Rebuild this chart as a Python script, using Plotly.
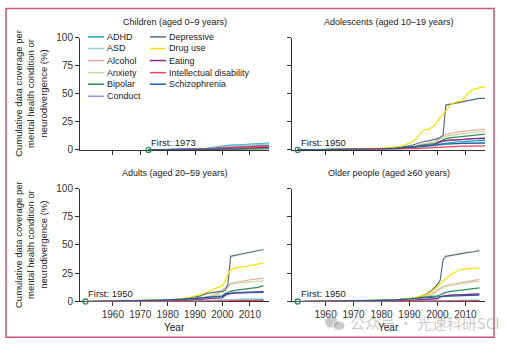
import plotly.graph_objects as go

W, H = 507, 349

CONDITIONS = ["ADHD", "ASD", "Alcohol", "Anxiety", "Bipolar", "Conduct",
              "Depressive", "Drug use", "Eating", "Intellectual disability", "Schizophrenia"]
COLORS = ["#1ba3c6", "#8fd0dc", "#eeaaa0", "#c2dc9e", "#2e8b57", "#a58ad6",
          "#56707a", "#f5e000", "#8c2a7e", "#ee4455", "#1f5fa0"]

PANEL_TITLES = ["Children (aged 0\u20139 years)", "Adolescents (aged 10\u201319 years)",
                "Adults (aged 20\u201359 years)", "Older people (aged \u226560 years)"]

Y_TICKS = [0, 25, 50, 75, 100]
X_TICKS = [1960, 1970, 1980, 1990, 2000, 2010]

# ---------- Children ----------
years_children = [1973, 1980, 1985, 1990, 1993, 1996, 1999, 2001, 2003, 2006, 2009, 2012, 2015, 2017]
children = {
    "ADHD":          [0, 0.2, 0.3, 0.5, 1, 2, 3, 3.8, 4.2, 4.5, 4.8, 5.2, 5.6, 6],
    "ASD":           [0, 0.1, 0.2, 0.4, 0.8, 1.5, 2.5, 3.2, 3.6, 4, 4.3, 4.6, 5, 5.3],
    "Alcohol":       [0, 0.1, 0.2, 0.3, 0.5, 0.8, 1, 1.2, 1.4, 1.6, 1.8, 2, 2.2, 2.3],
    "Anxiety":       [0, 0.1, 0.2, 0.4, 0.6, 1, 1.5, 2, 2.2, 2.5, 2.8, 3, 3.2, 3.4],
    "Bipolar":       [0, 0.1, 0.1, 0.2, 0.3, 0.5, 0.7, 0.9, 1, 1.1, 1.2, 1.3, 1.4, 1.5],
    "Conduct":       [0, 0.2, 0.3, 0.5, 0.8, 1.3, 2, 2.5, 2.8, 3, 3.3, 3.5, 3.8, 4],
    "Depressive":    [0, 0.1, 0.2, 0.4, 0.6, 1, 1.5, 2, 2.3, 2.6, 2.9, 3.2, 3.5, 3.7],
    "Drug use":      [0, 0, 0.1, 0.1, 0.2, 0.3, 0.4, 0.5, 0.6, 0.7, 0.8, 0.9, 1, 1],
    "Eating":        [0, 0.1, 0.1, 0.2, 0.4, 0.7, 1, 1.3, 1.5, 1.7, 1.9, 2.1, 2.3, 2.5],
    "Intellectual disability": [0, 0.2, 0.4, 0.6, 0.8, 1.2, 1.6, 1.9, 2.1, 2.3, 2.5, 2.7, 2.9, 3],
    "Schizophrenia": [0, 0, 0.1, 0.1, 0.2, 0.3, 0.4, 0.5, 0.6, 0.7, 0.8, 0.9, 1, 1],
}

# ---------- Adolescents ----------
years_adolescents = [1950, 1960, 1970, 1980, 1985, 1988, 1990, 1992, 1994, 1995, 1997, 1999,
                     2000, 2001, 2002, 2003, 2005, 2007, 2009, 2011, 2013, 2015, 2017]
adolescents = {
    "ADHD":          [0, 0.1, 0.3, 0.6, 1, 1.3, 1.8, 2.2, 2.8, 3, 3.5, 4, 4.5, 5, 5.5, 6, 6.5, 7, 7.5, 8, 8, 8.5, 8.5],
    "ASD":           [0, 0.1, 0.2, 0.4, 0.7, 1, 1.3, 1.7, 2, 2.3, 2.7, 3, 3.5, 4, 4.5, 5, 5.5, 6, 6, 6.5, 6.5, 7, 7],
    "Alcohol":       [0, 0.2, 0.5, 1, 1.5, 2, 2.5, 3.5, 5, 5.5, 6, 7, 9, 11, 12, 13.5, 15, 16, 16.5, 17, 17.5, 18, 18.5],
    "Anxiety":       [0, 0.2, 0.5, 1, 1.5, 2, 2.5, 3.5, 4.5, 5, 5.5, 6.5, 8, 10, 11, 12, 13, 14, 14.5, 15, 15.5, 16, 16.5],
    "Bipolar":       [0, 0.2, 0.5, 1, 1.5, 2, 2.5, 3, 4, 4.5, 5, 5.5, 6.5, 8, 9, 10, 11, 11.5, 12, 12.5, 13, 13.5, 14],
    "Conduct":       [0, 0.1, 0.4, 0.8, 1.2, 1.5, 2, 2.5, 3, 3.5, 4, 4.5, 5.5, 7, 7.5, 8, 8.5, 9, 9.5, 10, 10.5, 11, 11],
    "Depressive":    [0, 0.2, 0.5, 1, 1.5, 2.5, 3.5, 5, 7, 7.5, 8, 9, 10, 11, 13, 40, 41, 42, 43, 44, 45, 46, 46],
    "Drug use":      [0, 0.3, 0.8, 1.5, 2.5, 4, 6, 9, 15, 18, 18.5, 22, 26, 29, 32, 35, 41, 43, 44, 51, 54, 55.5, 56],
    "Eating":        [0, 0.1, 0.3, 0.6, 1, 1.5, 2, 2.5, 3, 3.5, 4, 4.5, 6, 7.5, 8, 8.5, 9, 9, 9.5, 9.5, 10, 10, 10],
    "Intellectual disability": [0, 0.1, 0.2, 0.4, 0.6, 0.8, 1, 1.2, 1.5, 1.7, 2, 2.2, 2.4, 2.6, 2.8, 3, 3, 3.2, 3.3, 3.4, 3.5, 3.5, 3.5],
    "Schizophrenia": [0, 0.2, 0.5, 1, 1.5, 2, 2.5, 3, 3.5, 3.8, 4, 4.2, 4.5, 5, 5, 5.2, 5.4, 5.6, 5.8, 6, 6, 6, 6],
}

# ---------- Adults ----------
years_adults = [1950, 1960, 1970, 1980, 1985, 1988, 1990, 1992, 1994, 1996, 1998, 2000,
                2001, 2002, 2003, 2005, 2007, 2009, 2011, 2013, 2015]
adults = {
    "ADHD":          [0, 0, 0.1, 0.2, 0.3, 0.4, 0.5, 0.6, 0.7, 0.8, 0.9, 1, 1.1, 1.2, 1.3, 1.4, 1.5, 1.6, 1.7, 1.8, 1.9],
    "ASD":           [0, 0, 0.1, 0.1, 0.2, 0.3, 0.4, 0.5, 0.6, 0.7, 0.8, 0.9, 1, 1.2, 1.5, 1.8, 2, 2, 2, 2, 2],
    "Alcohol":       [0, 0.2, 0.5, 1, 1.5, 2, 2.5, 3, 4, 5, 7, 10, 12, 14, 16, 17, 18, 19, 19.5, 20, 20.5],
    "Anxiety":       [0, 0.2, 0.5, 1, 1.5, 2, 2.5, 3, 3.5, 4.5, 6, 8, 11, 13, 15, 16, 16.5, 17, 17.5, 18, 18.5],
    "Bipolar":       [0, 0.2, 0.5, 1, 1.5, 2, 2.5, 3, 3.5, 4, 4.5, 5, 7, 8, 9, 10, 10.5, 11, 11.5, 12.5, 14],
    "Conduct":       [0, 0.1, 0.3, 0.6, 1, 1.3, 1.6, 2, 2.3, 2.6, 3, 3.3, 6, 7, 7.5, 8, 8, 8.3, 8.5, 8.7, 9],
    "Depressive":    [0, 0.3, 0.7, 1.3, 2, 3, 4, 5, 7, 8, 8.5, 9, 10, 15, 40, 41, 42, 43, 44, 45, 46],
    "Drug use":      [0, 0.3, 0.7, 1.5, 2.5, 3.5, 5, 6, 8, 10, 12, 14, 18, 24, 28, 30, 30.5, 31, 32, 33, 34],
    "Eating":        [0, 0.1, 0.3, 0.6, 1, 1.3, 1.6, 2, 2.3, 2.6, 3, 3.3, 5.5, 6.5, 7, 7.5, 7.8, 8, 8.3, 8.5, 8.8],
    "Intellectual disability": [0, 0, 0.1, 0.1, 0.2, 0.2, 0.3, 0.3, 0.4, 0.4, 0.5, 0.5, 0.6, 0.6, 0.7, 0.7, 0.8, 0.8, 0.9, 0.9, 1],
    "Schizophrenia": [0, 0.3, 0.8, 1.5, 2, 2.5, 3, 3.3, 3.6, 4, 4.3, 4.6, 6.5, 7, 7.3, 7.5, 7.7, 7.8, 7.9, 8, 8],
}

# ---------- Older people ----------
years_older = [1950, 1960, 1970, 1980, 1985, 1988, 1990, 1992, 1994, 1996, 1998, 2000,
               2001, 2002, 2003, 2005, 2007, 2009, 2011, 2013, 2015]
older = {
    "ADHD":          [0, 0, 0, 0.1, 0.1, 0.1, 0.2, 0.2, 0.3, 0.3, 0.4, 0.5, 0.5, 0.6, 0.6, 0.7, 0.7, 0.8, 0.8, 0.9, 1],
    "ASD":           [0, 0, 0, 0.1, 0.1, 0.2, 0.2, 0.3, 0.3, 0.4, 0.5, 0.6, 0.7, 0.8, 0.9, 1, 1, 1.1, 1.1, 1.2, 1.2],
    "Alcohol":       [0, 0.2, 0.5, 1, 1.5, 2, 2.5, 3, 4, 5, 7, 10, 12, 13, 14, 15, 16, 17, 18, 18.5, 19.5],
    "Anxiety":       [0, 0.2, 0.4, 0.8, 1.2, 1.6, 2, 2.5, 3, 4, 6, 9, 11, 12.5, 13.5, 14.5, 15.5, 16, 16.5, 17, 18],
    "Bipolar":       [0, 0.3, 0.6, 1, 1.5, 2, 2.5, 3, 3.5, 4, 4.5, 5, 6, 7, 8, 9, 9.5, 10, 10.5, 11, 12],
    "Conduct":       [0, 0.1, 0.2, 0.4, 0.6, 0.8, 1, 1.2, 1.5, 1.8, 2, 2.5, 4.5, 5, 5.3, 5.6, 5.8, 6, 6.2, 6.4, 6.5],
    "Depressive":    [0, 0.2, 0.5, 1, 1.5, 2, 2.5, 3, 4.5, 6.5, 10, 15, 19, 37, 40, 41, 42, 43, 43.5, 44, 45],
    "Drug use":      [0, 0.2, 0.5, 1, 1.5, 2, 2.5, 3.5, 5, 6, 9, 13, 16, 18, 20, 24, 27, 28.5, 29, 29, 29.5],
    "Eating":        [0, 0.1, 0.2, 0.4, 0.6, 0.8, 1, 1.2, 1.5, 1.8, 2, 2.5, 4, 4.8, 5.2, 5.6, 5.8, 6, 6.2, 6.4, 6.8],
    "Intellectual disability": [0, 0, 0, 0.1, 0.1, 0.1, 0.2, 0.2, 0.2, 0.3, 0.3, 0.3, 0.4, 0.4, 0.4, 0.5, 0.5, 0.5, 0.6, 0.6, 0.6],
    "Schizophrenia": [0, 0.2, 0.5, 1, 1.4, 1.8, 2.2, 2.6, 3, 3.3, 3.6, 4, 4.2, 4.4, 4.6, 4.8, 5, 5.1, 5.2, 5.3, 5.5],
}

PANELS = [(years_children, children), (years_adolescents, adolescents),
          (years_adults, adults), (years_older, older)]

FONT = "Liberation Sans, Arial, sans-serif"
AX_COLOR = "#333333"
TXT_COLOR = "#222222"
MARK_GREEN = "#2e8b57"

# pixel boxes of the four plot areas (left, right, top, bottom)
BOXES = [(80, 269, 33, 149), (292, 485, 33, 149), (80, 269, 189, 306), (292, 485, 189, 306)]


def px(x):
    return x / W


def py(y):
    return 1 - y / H


fig = go.Figure()
layout = dict(
    width=W, height=H, margin=dict(l=0, r=0, t=0, b=0),
    paper_bgcolor="white", plot_bgcolor="white", showlegend=False,
    font=dict(family=FONT, size=10, color=AX_COLOR),
)
annotations = []
shapes = []

for i, ((years, data), box) in enumerate(zip(PANELS, BOXES)):
    n = i + 1
    xa = "x" if n == 1 else f"x{n}"
    ya = "y" if n == 1 else f"y{n}"
    l, r, t, b = box
    left_col = i % 2 == 0
    bottom_row = i >= 2
    layout["xaxis" if n == 1 else f"xaxis{n}"] = dict(
        domain=[px(l), px(r)], range=[1948, 2017], anchor=ya,
        tickmode="array", tickvals=X_TICKS, showticklabels=bottom_row,
        ticks="outside", ticklen=4, tickwidth=1, tickcolor=AX_COLOR,
        showline=True, linecolor=AX_COLOR, linewidth=1, showgrid=False, zeroline=False,
        tickfont=dict(size=10, color=AX_COLOR), layer="below traces",
    )
    layout["yaxis" if n == 1 else f"yaxis{n}"] = dict(
        domain=[py(b), py(t)], range=[0, 100], anchor=xa,
        tickmode="array", tickvals=Y_TICKS, showticklabels=left_col,
        ticks="outside", ticklen=4, tickwidth=1, tickcolor=AX_COLOR,
        showline=True, linecolor=AX_COLOR, linewidth=1, showgrid=False, zeroline=False,
        tickfont=dict(size=10, color=AX_COLOR), layer="below traces",
    )
    for name, color in zip(CONDITIONS, COLORS):
        fig.add_trace(go.Scatter(
            x=years, y=data[name], mode="lines", name=name,
            line=dict(color=color, width=1.2), xaxis=xa, yaxis=ya,
            cliponaxis=False, hoverinfo="skip",
        ))
    # first-year marker
    fig.add_trace(go.Scatter(
        x=[years[0]], y=[0], mode="markers", xaxis=xa, yaxis=ya, cliponaxis=False,
        marker=dict(symbol="circle-open", size=5, color=MARK_GREEN, line=dict(width=1.3)),
        hoverinfo="skip",
    ))
    annotations.append(dict(
        x=years[0], y=0, xref=xa, yref=ya, text=f"First: {years[0]}", showarrow=False,
        xanchor="left", yanchor="bottom", xshift=1, yshift=0,
        font=dict(size=9.5, color=TXT_COLOR),
    ))
    # panel title
    annotations.append(dict(
        x=px((l + r) / 2), y=py(t - 16), xref="paper", yref="paper",
        text=PANEL_TITLES[i], showarrow=False, xanchor="center", yanchor="middle",
        font=dict(size=9, color=TXT_COLOR),
    ))
    if bottom_row:
        annotations.append(dict(
            x=px((l + r) / 2), y=py(333), xref="paper", yref="paper", text="Year",
            showarrow=False, xanchor="center", yanchor="middle",
            font=dict(size=10, color=TXT_COLOR),
        ))
    if left_col:
        annotations.append(dict(
            x=px(31), y=py((t + b) / 2), xref="paper", yref="paper",
            text="Cumulative data coverage per<br>mental health condition or<br>neurodivergence (%)",
            showarrow=False, textangle=-90, xanchor="center", yanchor="middle",
            font=dict(size=9.5, color=TXT_COLOR),
        ))

# manual two-column legend in the children panel
col_x = [88, 150]
row_y = [32, 44, 56.5, 69, 81, 93.5]
for k, (name, color) in enumerate(zip(CONDITIONS, COLORS)):
    c = 0 if k < 6 else 1
    rr = k if k < 6 else k - 6
    x0 = col_x[c]
    yy = row_y[rr]
    shapes.append(dict(type="line", xref="paper", yref="paper",
                       x0=px(x0), x1=px(x0 + 16), y0=py(yy), y1=py(yy),
                       line=dict(color=color, width=1.5)))
    annotations.append(dict(
        x=px(x0 + 16.5), y=py(yy), xref="paper", yref="paper", text=name,
        showarrow=False, xanchor="left", yanchor="middle",
        font=dict(size=9, color=TXT_COLOR),
    ))

# frame
shapes.append(dict(type="rect", xref="paper", yref="paper",
                   x0=px(6), x1=px(494), y0=py(343), y1=py(2.5),
                   line=dict(color="#cc5577", width=1.5), layer="below"))

# watermark (icon + text)
WM = "rgba(150,150,150,0.5)"
shapes.append(dict(type="circle", xref="paper", yref="paper", layer="above",
                   x0=px(325), x1=px(338), y0=py(333), y1=py(322),
                   fillcolor=WM, line=dict(width=0)))
shapes.append(dict(type="circle", xref="paper", yref="paper", layer="above",
                   x0=px(333), x1=px(345), y0=py(336), y1=py(326),
                   fillcolor=WM, line=dict(color="white", width=1)))
annotations.append(dict(
    x=px(348), y=py(328), xref="paper", yref="paper",
    text="\u516c\u4f17\u53f7 \u00b7 \u5149\u901f\u79d1\u7814SCI", showarrow=False,
    xanchor="left", yanchor="middle",
    font=dict(family="Noto Sans CJK SC", size=15, color=WM),
))

layout["annotations"] = annotations
layout["shapes"] = shapes
fig.update_layout(**layout)
fig.write_html("out.html")
